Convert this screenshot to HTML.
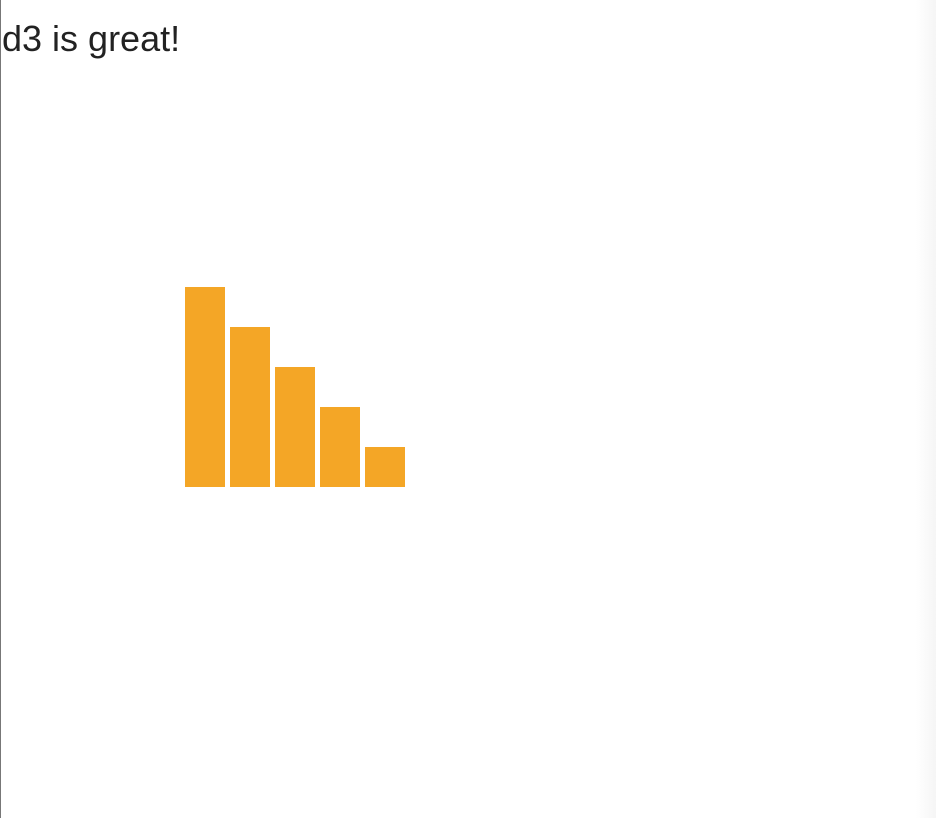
<!DOCTYPE html>
<html>
<head>
<meta charset="utf-8">
<style>
  html, body { margin: 0; padding: 0; }
  body { width: 936px; height: 818px; background: #fff; position: relative; overflow: hidden; }
  #left-border { position: absolute; left: 0; top: 0; width: 1px; height: 818px; background: #777; }
  #right-shade { position: absolute; right: 0; top: 0; width: 20px; height: 818px;
    background: linear-gradient(to right, rgba(245,245,245,0), rgba(244,244,244,0.9)); }
  #title { position: absolute; left: 2px; top: 17px; margin: 0; font: 36px "Liberation Sans", Arial, sans-serif; color: #222; font-weight: normal; line-height: 1.2; }
  svg { position: absolute; left: 0; top: 0; }
</style>
</head>
<body>
<div id="left-border"></div>
<div id="right-shade"></div>
<h1 id="title">d3 is great!</h1>
<svg id="chart" width="936" height="818"></svg>
<script>
const categories = ["a", "b", "c", "d", "e"];
const values = [100, 80, 60, 40, 20];

const baseX = 185, barW = 40, gap = 5, baseY = 487, pxPerUnit = 2;
function xPos(i) { return baseX + i * (barW + gap); }
function yPos(v) { return baseY - v * pxPerUnit; }

const svg = document.getElementById('chart');
const NS = 'http://www.w3.org/2000/svg';
values.forEach((v, i) => {
  const r = document.createElementNS(NS, 'rect');
  r.setAttribute('x', xPos(i));
  r.setAttribute('y', yPos(v));
  r.setAttribute('width', barW);
  r.setAttribute('height', baseY - yPos(v));
  r.setAttribute('fill', '#F4A626');
  
  
  svg.appendChild(r);
});
</script>
</body>
</html>
